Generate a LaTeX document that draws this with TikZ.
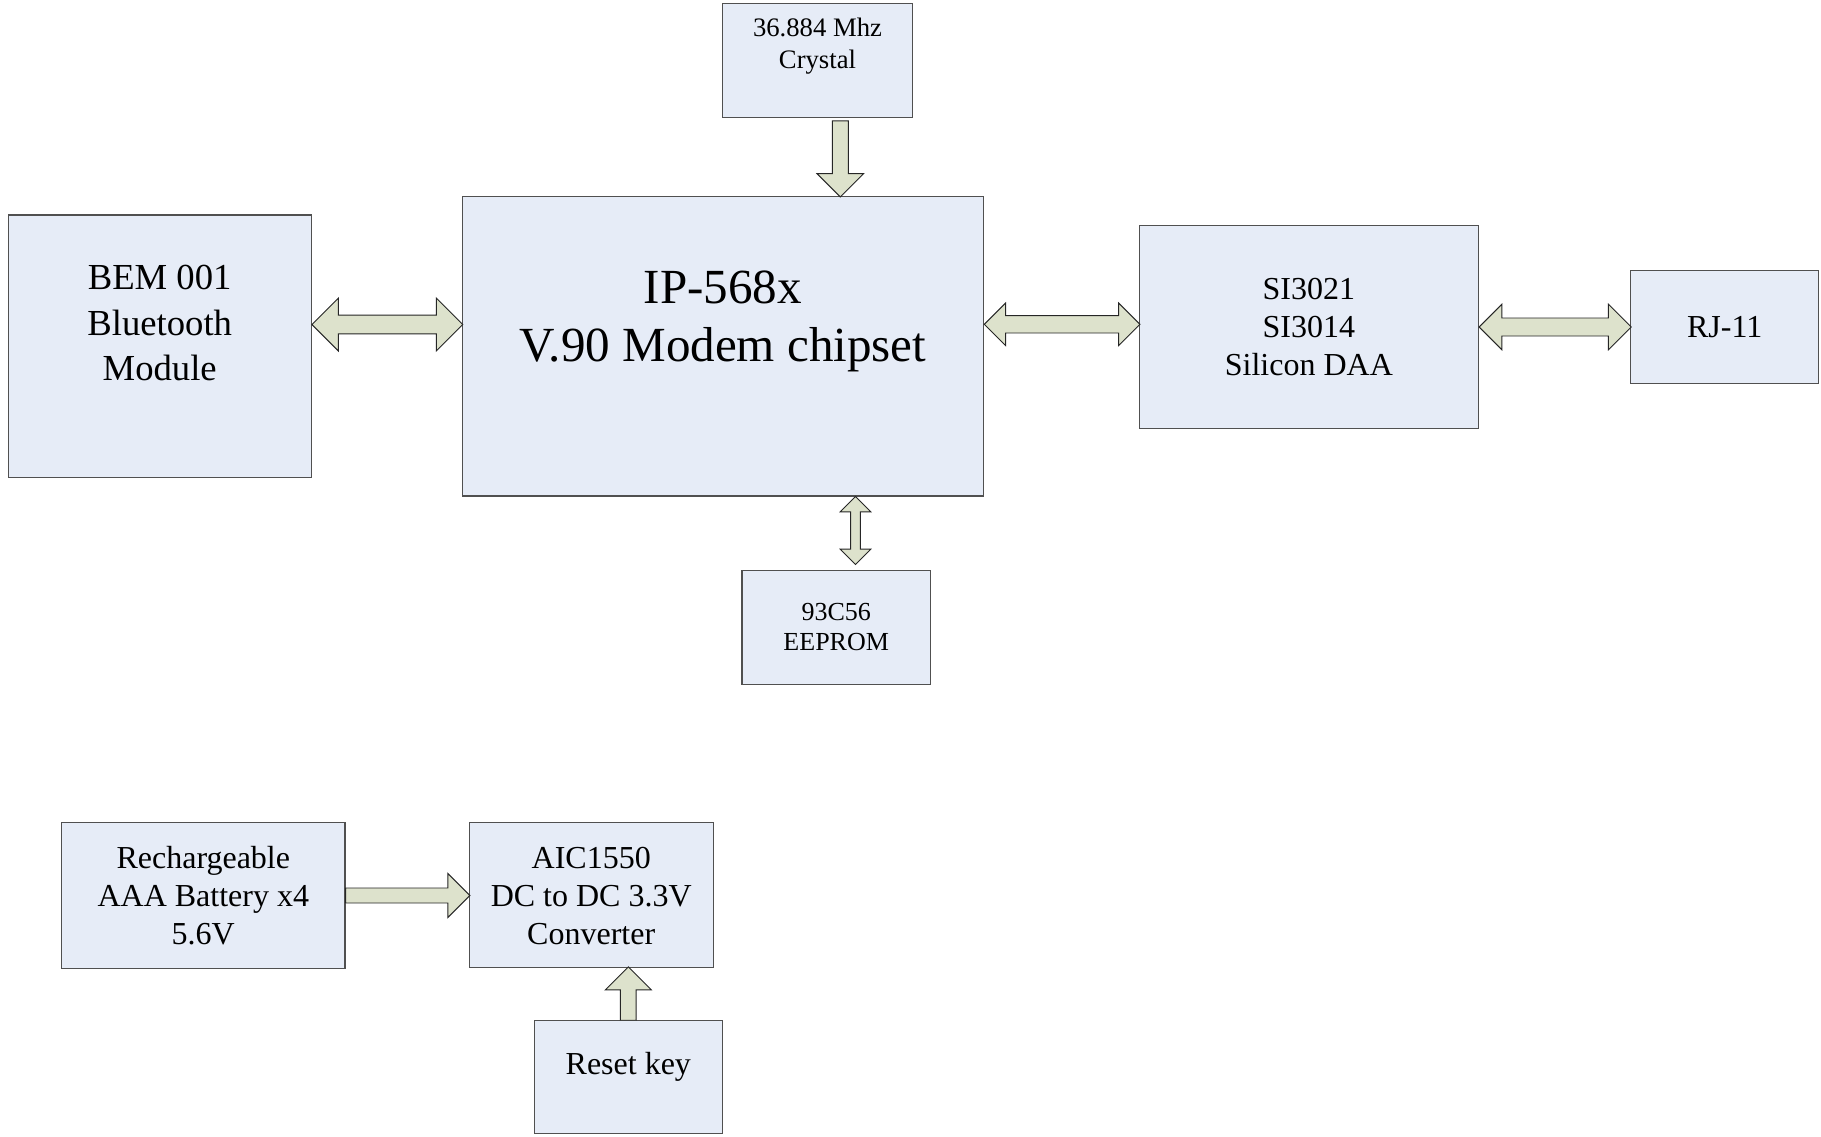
\documentclass[tikz,border=0pt]{standalone}
\usepackage{fontspec}
\setmainfont{Liberation Serif}
\usetikzlibrary{calc}

\definecolor{boxfill}{RGB}{230,236,247}
\definecolor{arrowfill}{RGB}{221,226,204}
\definecolor{boxline}{RGB}{80,80,80}

\tikzset{every picture/.style={line width=0.75pt},
  blk/.style={draw=boxline, fill=boxfill, line width=0.9pt, inner sep=0pt},
  fatarrow/.style={draw=black!85, fill=arrowfill, line width=0.7pt, line join=miter},
  lbl/.style={inner sep=0.75pt, align=center}}

% fat arrows: #1 start, #2 length, #3 half shaft, #4 half head
\newcommand{\fatdblx}[4]{\draw[fatarrow] #1 -- ++(#4,-#4) -- ++(0,#4-#3) -- ++(#2-2*#4,0) -- ++(0,#3-#4) -- ++(#4,#4) -- ++(-#4,#4) -- ++(0,#3-#4) -- ++(-#2+2*#4,0) -- ++(0,#4-#3) -- cycle;}
\newcommand{\fatdbly}[4]{\draw[fatarrow] #1 -- ++(-#4,#4) -- ++(#4-#3,0) -- ++(0,#2-2*#4) -- ++(#3-#4,0) -- ++(#4,#4) -- ++(#4,-#4) -- ++(#3-#4,0) -- ++(0,-#2+2*#4) -- ++(#4-#3,0) -- cycle;}
\newcommand{\fatright}[4]{\draw[fatarrow] #1 -- ++(0,-#3) -- ++(#2-#4,0) -- ++(0,#3-#4) -- ++(#4,#4) -- ++(-#4,#4) -- ++(0,#3-#4) -- ++(-#2+#4,0) -- cycle;}
\newcommand{\fatdown}[4]{\draw[fatarrow] #1 -- ++(#3,0) -- ++(0,#2-#4) -- ++(#4-#3,0) -- ++(-#4,#4) -- ++(-#4,-#4) -- ++(#4-#3,0) -- ++(0,-#2+#4) -- cycle;}
\newcommand{\fatup}[4]{\draw[fatarrow] #1 -- ++(#3,0) -- ++(0,-#2+#4) -- ++(#4-#3,0) -- ++(-#4,-#4) -- ++(-#4,#4) -- ++(#4-#3,0) -- ++(0,#2-#4) -- cycle;}

\begin{document}
\begin{tikzpicture}[x=0.75pt,y=0.75pt,yscale=-1,xscale=1]
\useasboundingbox (0,0) rectangle (1821,1136);

%Shape: Rectangle [crystal]
\node[blk, minimum width=142.2pt, minimum height=85.5pt] (crystal) at (817.5,60.3) {};
%Shape: Rectangle [modem]
\node[blk, minimum width=391.1pt, minimum height=224.7pt] (ip) at (723,346.1) {};
%Shape: Rectangle [bluetooth]
\node[blk, minimum width=227.4pt, minimum height=196.8pt] (bem) at (159.7,346.1) {};
%Shape: Rectangle [daa]
\node[blk, minimum width=254.4pt, minimum height=152.5pt] (si) at (1308.9,327) {};
%Shape: Rectangle [jack]
\node[blk, minimum width=141.2pt, minimum height=84.5pt] (rj) at (1724.7,327) {};
%Shape: Rectangle [eeprom]
\node[blk, minimum width=141.2pt, minimum height=85.4pt] (eeprom) at (836.2,627.2) {};
%Shape: Rectangle [battery]
\node[blk, minimum width=212.5pt, minimum height=109.7pt] (batt) at (203.3,895.5) {};
%Shape: Rectangle [converter]
\node[blk, minimum width=182.9pt, minimum height=108.9pt] (aic) at (591.2,894.9) {};
%Shape: Rectangle [reset]
\node[blk, minimum width=141.2pt, minimum height=84.5pt] (reset) at (628.3,1077.2) {};

%Shape: Arrows
\fatdown{($(crystal.south)+(22.8,3)$)}{76}{8}{23.3}
\fatdblx{($(bem.east)+(0,-21.6)$)}{150.9}{9.3}{26.5}
\fatdblx{($(ip.east)+(0,-21.8)$)}{155.6}{8.7}{21.3}
\fatdblx{(si.east)}{152.1}{9}{22.8}
\fatdbly{($(ip.south)+(132.5,0)$)}{68}{4.8}{15.3}
\fatright{(batt.east)}{124.3}{7.5}{22}
\fatup{(reset.north)}{53.4}{7.9}{23}

% Text Node
\node[lbl, font=\fontsize{20}{23.5}\selectfont] (crystaltxt) at (817.5,46) {36.884 Mhz\\Crystal};
% Text Node
\node[lbl, font=\fontsize{36.8}{43.5}\selectfont] (iptxt) at (723,321) {IP-568x\\V.90 Modem chipset};
% Text Node
\node[lbl, font=\fontsize{27.5}{34}\selectfont] (bemtxt) at (159.7,323) {BEM 001\\Bluetooth\\Module};
% Text Node
\node[lbl, font=\fontsize{24}{28.5}\selectfont] (sitxt) at (1308.9,327) {SI3021\\SI3014\\Silicon DAA};
% Text Node
\node[lbl, font=\fontsize{24}{28.5}\selectfont] (rjtxt) at (1724.7,327) {RJ-11};
% Text Node
\node[lbl, font=\fontsize{19.5}{22}\selectfont] (eepromtxt) at (836.2,627) {93C56\\EEPROM};
% Text Node
\node[lbl, font=\fontsize{24}{28.5}\selectfont] (batttxt) at (203.3,896) {Rechargeable\\AAA Battery x4\\5.6V};
% Text Node
\node[lbl, font=\fontsize{24}{28.5}\selectfont] (aictxt) at (591.2,896) {AIC1550\\DC to DC 3.3V\\Converter};
% Text Node
\node[lbl, font=\fontsize{24}{28.5}\selectfont] (resettxt) at (628.3,1067) {Reset key};

\end{tikzpicture}
\end{document}
